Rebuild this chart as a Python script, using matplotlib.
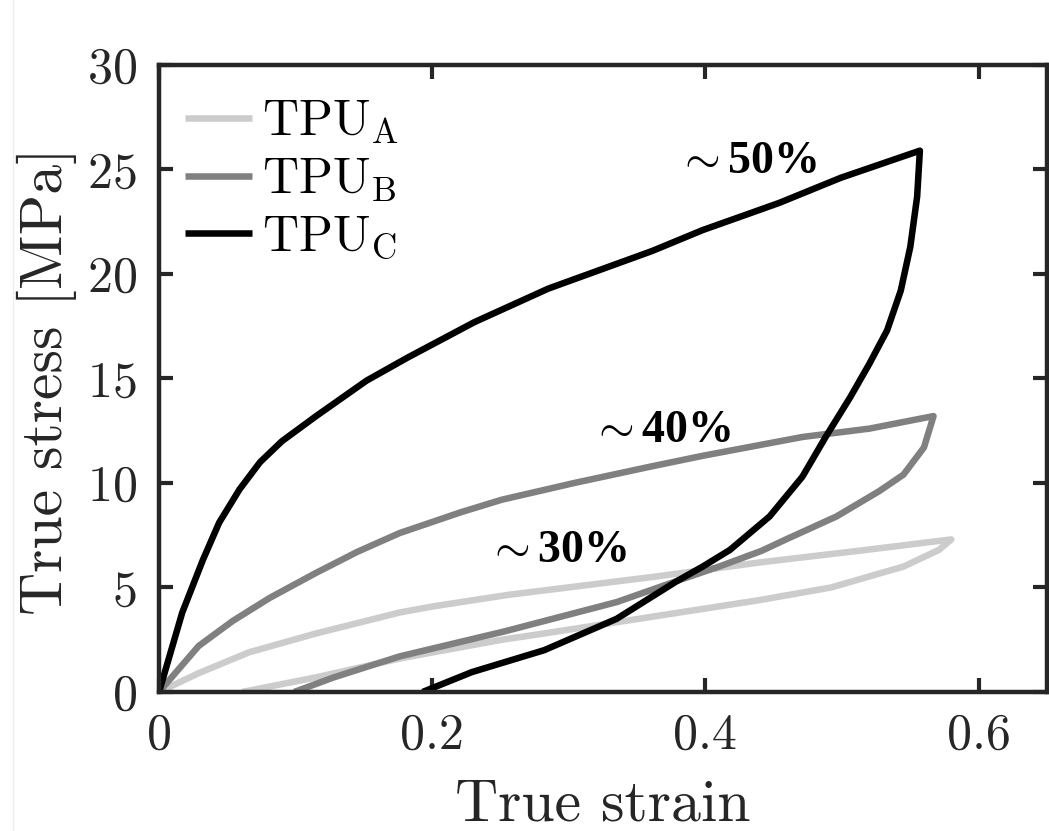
import numpy as np
import matplotlib
matplotlib.use('Agg')
import matplotlib.pyplot as plt
from matplotlib.lines import Line2D

# ==============================================================================
# Curvas de carga / descarga (deformacion, esfuerzo)
# ==============================================================================
a_load_x = [0, 0.029, 0.066, 0.115, 0.176, 0.201, 0.256, 0.361, 0.44, 0.518, 0.58]
a_load_y = [0, 0.9, 1.9, 2.8, 3.8, 4.1, 4.65, 5.5, 6.2, 6.8, 7.3]
a_unl_x = [0.58, 0.571, 0.545, 0.492, 0.44, 0.361, 0.282, 0.251, 0.176, 0.115, 0.061]
a_unl_y = [7.3, 6.8, 6.0, 5.0, 4.4, 3.6, 2.8, 2.5, 1.6, 0.7, 0]

b_load_x = [0, 0.029, 0.054, 0.081, 0.115, 0.145, 0.176, 0.221, 0.251, 0.304,
            0.361, 0.398, 0.471, 0.52, 0.567]
b_load_y = [0, 2.2, 3.4, 4.5, 5.7, 6.7, 7.6, 8.6, 9.2, 10.0,
            10.8, 11.3, 12.2, 12.6, 13.2]
b_unl_x = [0.567, 0.560, 0.545, 0.527, 0.496, 0.459, 0.441, 0.41, 0.383, 0.335,
           0.253, 0.176, 0.128, 0.099]
b_unl_y = [13.2, 11.7, 10.4, 9.6, 8.4, 7.3, 6.75, 6.0, 5.4, 4.3,
           2.9, 1.7, 0.7, 0]

c_load_x = [0, 0.017, 0.032, 0.044, 0.059, 0.074, 0.090, 0.115, 0.152, 0.182,
            0.231, 0.285, 0.361, 0.398, 0.454, 0.499, 0.557]
c_load_y = [0, 3.8, 6.3, 8.1, 9.7, 11.0, 12.0, 13.2, 14.9, 16.0,
            17.7, 19.3, 21.1, 22.1, 23.4, 24.6, 25.9]
c_unl_x = [0.557, 0.555, 0.550, 0.543, 0.533, 0.520, 0.506, 0.488, 0.471, 0.447,
           0.418, 0.398, 0.379, 0.335, 0.282, 0.229, 0.193]
c_unl_y = [25.9, 23.7, 21.3, 19.2, 17.3, 15.7, 14.1, 12.2, 10.3, 8.4,
           6.8, 6.0, 5.3, 3.5, 2.0, 0.95, 0]

nombres = [r'TPU$_\mathrm{A}$', r'TPU$_\mathrm{B}$', r'TPU$_\mathrm{C}$']
colores = ['#cccccc', '#808080', '#000000']
etiquetas = ['50%', '40%', '30%']
pos_etiq = [(0.430, 24.83), (0.3675, 11.96), (0.291, 6.22)]

# ==============================================================================
# Estilo tipo MATLAB / LaTeX
# ==============================================================================
plt.rcParams['font.family'] = 'cmr10'
plt.rcParams['mathtext.fontset'] = 'cm'
plt.rcParams['axes.formatter.use_mathtext'] = True
plt.rcParams['axes.unicode_minus'] = False

fig = plt.figure(figsize=(10.49, 8.31), dpi=100)
ax = fig.add_axes([0.1516, 0.1673, 0.8464, 0.7545])

# linea tenue en el borde izquierdo de la imagen original
fig.add_artist(Line2D([0.0125, 0.0125], [0, 1], color='#eeeeee', lw=1))

curvas = [(a_load_x + a_unl_x[1:], a_load_y + a_unl_y[1:]),
          (b_load_x + b_unl_x[1:], b_load_y + b_unl_y[1:]),
          (c_load_x + c_unl_x[1:], c_load_y + c_unl_y[1:])]

for (xx, yy), col, nom in zip(curvas, colores, nombres):
    ax.plot(xx, yy, color=col, lw=4.7, label=nom,
            solid_joinstyle='round', solid_capstyle='butt')

for txt, (xt, yt) in zip(etiquetas, pos_etiq):
    ax.text(xt, yt, r'$\sim$' + txt, family='Liberation Serif', weight='bold',
            fontsize=33, ha='center', va='baseline')

ax.set_xlim(0, 0.65)
ax.set_ylim(0, 30)
ax.set_xticks([0, 0.2, 0.4, 0.6])
ax.set_xticklabels(['0', '0.2', '0.4', '0.6'])
ax.set_yticks([0, 5, 10, 15, 20, 25, 30])
ax.tick_params(direction='in', length=10, width=3, labelsize=36,
               top=True, right=True, colors='#262626', labelcolor='#262626')
ax.tick_params(axis='x', pad=15)
ax.tick_params(axis='y', pad=16)
for s in ax.spines.values():
    s.set_linewidth(3.2)
    s.set_color('#262626')

ax.set_xlabel('True strain', fontsize=43, color='#262626')
ax.xaxis.set_label_coords(0.5, -0.139)
ax.set_ylabel('True stress [MPa]', fontsize=43, color='#262626')
ax.yaxis.set_label_coords(-0.092, 0.495)

ax.legend(loc='upper left', bbox_to_anchor=(0.029, 0.946), frameon=False,
          fontsize=36, handlelength=1.35, handletextpad=0.2, labelspacing=0.21,
          borderaxespad=0.0, borderpad=0.0)

fig.savefig('out.png', dpi=100)
